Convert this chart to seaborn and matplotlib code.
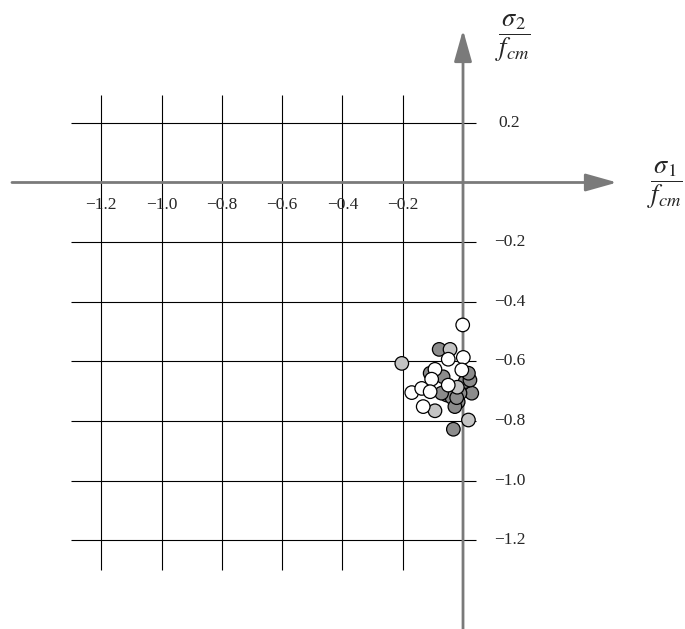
import matplotlib
matplotlib.use("Agg")
import matplotlib.pyplot as plt
import seaborn as sns
import pandas as pd

# Normalised principal stresses sigma1/fcm, sigma2/fcm for three test series
x_open = [-0.001, -0.049, 0.001, -0.093, -0.004, -0.104, -0.170, -0.137, -0.109, -0.132, -0.049]
y_open = [-0.478, -0.593, -0.587, -0.627, -0.629, -0.660, -0.705, -0.691, -0.702, -0.752, -0.680]

x_light = [-0.203, -0.093, -0.043, -0.019, 0.018]
y_light = [-0.607, -0.766, -0.560, -0.687, -0.797]

x_dark = [-0.079, -0.109, -0.054, -0.037, -0.016, -0.027, 0.029, 0.007, 0.023,
          -0.032, -0.071, -0.010, 0.018, -0.066, -0.021]
y_dark = [-0.560, -0.640, -0.713, -0.721, -0.736, -0.752, -0.707, -0.668, -0.663,
          -0.828, -0.707, -0.707, -0.640, -0.652, -0.722]

grid_x = [-1.2, -1.0, -0.8, -0.6, -0.4, -0.2]
grid_y = [0.2, -0.2, -0.4, -0.6, -0.8, -1.0, -1.2]
x_tick_labels = ["\u22121.2", "\u22121.0", "\u22120.8", "\u22120.6", "\u22120.4", "\u22120.2"]
y_tick_labels = ["0.2", "\u22120.2", "\u22120.4", "\u22120.6", "\u22120.8", "\u22121.0", "\u22121.2"]

df = pd.DataFrame({
    "s1": x_dark + x_light + x_open,
    "s2": y_dark + y_light + y_open,
    "series": ["dark"] * len(x_dark) + ["light"] * len(x_light) + ["open"] * len(x_open),
})

sns.set_theme(style="white")
plt.rcParams["font.family"] = ["Liberation Serif", "DejaVu Serif"]
plt.rcParams["mathtext.fontset"] = "stix"

fig = plt.figure(figsize=(6.85, 6.29), dpi=100)
ax = fig.add_axes([0, 0, 1, 1])
ax.set_xlim(-1.5357, 0.7363)
ax.set_ylim(-1.4983, 0.6124)
ax.axis("off")

# grid
ax.vlines(grid_x, -1.30, 0.295, color="black", lw=0.8, zorder=1)
ax.hlines(grid_y, -1.30, 0.043, color="black", lw=0.8, zorder=1)

# coordinate axes with arrowheads
arrow = dict(arrowstyle="-|>,head_length=1.6,head_width=0.45", color="#7a7a7a", lw=2.0,
             shrinkA=0, shrinkB=0)
ax.annotate("", xy=(0.511, 0.0), xytext=(-1.496, 0.0), arrowprops=arrow, zorder=2)
ax.annotate("", xy=(0.0, 0.512), xytext=(0.0, -1.50), arrowprops=arrow, zorder=2)

palette = {"dark": "#8c8c8c", "light": "#c4c4c4", "open": "white"}
sns.scatterplot(data=df, x="s1", y="s2", hue="series", palette=palette, s=95,
                edgecolor="black", linewidth=0.9, legend=False, ax=ax, zorder=3)

for xv, lab in zip(grid_x, x_tick_labels):
    ax.text(xv, -0.074, lab, ha="center", va="center", fontsize=12.5)
for yv, lab in zip(grid_y, y_tick_labels):
    ax.text(0.154, yv, lab, ha="center", va="center", fontsize=12.5)

ax.text(0.166, 0.485, r"$\dfrac{\sigma_2}{f_{cm}}$", ha="center", va="center", fontsize=19)
ax.text(0.67, -0.01, r"$\dfrac{\sigma_1}{f_{cm}}$", ha="center", va="center", fontsize=19)

fig.savefig("out.png", dpi=100)
